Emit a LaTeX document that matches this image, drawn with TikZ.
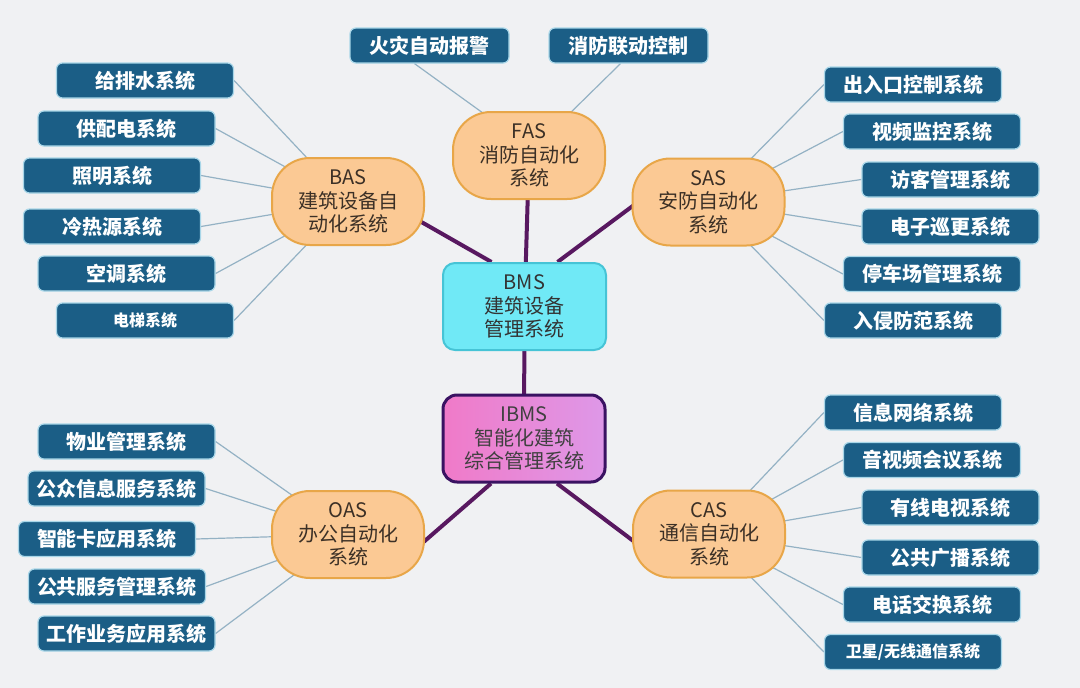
\documentclass[tikz,border=0pt]{standalone}
\usepackage{fontspec}
\setmainfont{Noto Sans CJK SC}
\usetikzlibrary{backgrounds}
\usepackage{xcolor}

\definecolor{paper}{RGB}{240,241,243}
\definecolor{leafblue}{RGB}{27,94,134}
\definecolor{leafrim}{RGB}{168,214,232}
\definecolor{sysfill}{RGB}{251,201,148}
\definecolor{sysrim}{RGB}{232,166,72}
\definecolor{systext}{RGB}{60,48,38}
\definecolor{bmsfill}{RGB}{112,233,246}
\definecolor{bmsrim}{RGB}{70,196,214}
\definecolor{ibmsleft}{RGB}{240,122,200}
\definecolor{ibmsright}{RGB}{222,152,232}
\definecolor{ibmsrim}{RGB}{58,18,98}
\definecolor{busline}{RGB}{88,24,96}
\definecolor{twigline}{RGB}{148,178,196}

\begin{document}
\begin{tikzpicture}[
    x=1pt, y=-1pt,
    every node/.style={font=\fontsize{20}{23.5}\selectfont},
    leafbox/.style={rectangle, rounded corners=6pt, draw=leafrim, line width=1.2pt,
                    fill=leafblue, text=white, font=\fontsize{20}{24}\selectfont\bfseries,
                    minimum width=177pt, minimum height=35pt, inner sep=0pt},
    sysnode/.style={rectangle, rounded corners=38pt, draw=sysrim, line width=2pt,
                    fill=sysfill, text=systext, align=center,
                    minimum width=152pt, minimum height=87pt, inner sep=0pt},
    bmsbox/.style ={rectangle, rounded corners=12pt, draw=bmsrim, line width=2pt,
                    fill=bmsfill, text=black!80, align=center,
                    minimum width=163pt, minimum height=87pt, inner sep=0pt},
    ibmsbox/.style={rectangle, rounded corners=14pt, draw=ibmsrim, line width=3pt,
                    left color=ibmsleft, right color=ibmsright, text=black!75,
                    align=center, minimum width=162pt, minimum height=87pt, inner sep=0pt},
    bus/.style    ={draw=busline, line width=4pt},
    twig/.style   ={draw=twigline, line width=1.2pt},
]
\useasboundingbox (0,0) rectangle (1080,688);

% ── Core column ──────────────────────────────────────────────
\node[bmsbox]  (bms)  at (524.5,306.5) {BMS\\建筑设备\\管理系统};
\node[ibmsbox] (ibms) at (524,438.5)   {IBMS\\智能化建筑\\综合管理系统};

% ── Sub-systems round the core ───────────────────────────────
\node[sysnode] (fas) at (529,155.5) {FAS\\消防自动化\\系统};
\node[sysnode] (bas) at (348,201.5) {BAS\\建筑设备自\\动化系统};
\node[sysnode] (sas) at (708.5,202) {SAS\\安防自动化\\系统};
\node[sysnode] (oas) at (348,534.5) {OAS\\办公自动化\\系统};
\node[sysnode] (cas) at (709,534)   {CAS\\通信自动化\\系统};

% ── FAS leaves (top) ─────────────────────────────────────────
\node[leafbox, minimum width=159pt] (f1) at (429.5,45.5) {火灾自动报警};
\node[leafbox, minimum width=159pt] (f2) at (628.5,45.5) {消防联动控制};

% ── BAS leaves (left, upper) ─────────────────────────────────
\node[leafbox] (b1) at (145,80.5)    {给排水系统};
\node[leafbox] (b2) at (126.5,128.5) {供配电系统};
\node[leafbox] (b3) at (112,175.5)   {照明系统};
\node[leafbox] (b4) at (112,226.5)   {冷热源系统};
\node[leafbox] (b5) at (126.5,273.5) {空调系统};
\node[leafbox, font=\fontsize{16}{20}\selectfont\bfseries] (b6) at (145,320.5) {电梯系统};

% ── SAS leaves (right, upper) ────────────────────────────────
\node[leafbox] (s1) at (913,84.5)    {出入口控制系统};
\node[leafbox] (s2) at (932,131.5)   {视频监控系统};
\node[leafbox] (s3) at (950.5,179.5) {访客管理系统};
\node[leafbox] (s4) at (950.5,226.5) {电子巡更系统};
\node[leafbox] (s5) at (932,274)     {停车场管理系统};
\node[leafbox] (s6) at (913,320.5)   {入侵防范系统};

% ── OAS leaves (left, lower) ─────────────────────────────────
\node[leafbox] (o1) at (126.5,441.5) {物业管理系统};
\node[leafbox] (o2) at (116.5,488.5) {公众信息服务系统};
\node[leafbox] (o3) at (107,539)     {智能卡应用系统};
\node[leafbox] (o4) at (117,586.5)   {公共服务管理系统};
\node[leafbox] (o5) at (126.5,633.5) {工作业务应用系统};

% ── CAS leaves (right, lower) ────────────────────────────────
\node[leafbox] (c1) at (913,412.5)   {信息网络系统};
\node[leafbox] (c2) at (932,460)     {音视频会议系统};
\node[leafbox] (c3) at (950.5,507.5) {有线电视系统};
\node[leafbox] (c4) at (950.5,557.5) {公共广播系统};
\node[leafbox] (c5) at (932,604.5)   {电话交换系统};
\node[leafbox, font=\fontsize{16}{20}\selectfont\bfseries] (c6) at (913,652) {卫星/无线通信系统};

% ── Connectors, kept under the nodes ─────────────────────────
\begin{scope}[on background layer]
  \fill[paper] (0,0) rectangle (1080,688);

  % thin leaf lines
  \draw[twig] ([xshift=-15pt]f1.south) -- ([xshift=-35pt,yshift=-10pt]fas.north);
  \draw[twig] ([xshift=-8pt]f2.south)  -- ([xshift=33pt,yshift=-10pt]fas.north);

  \draw[twig] (b1.east) -- (bas.center);
  \draw[twig] (b2.east) -- (bas.center);
  \draw[twig] (b3.east) -- (bas.center);
  \draw[twig] (b4.east) -- (bas.center);
  \draw[twig] (b5.east) -- (bas.center);
  \draw[twig] (b6.east) -- (bas.center);

  \draw[twig] (s1.west) -- (sas.center);
  \draw[twig] (s2.west) -- (sas.center);
  \draw[twig] (s3.west) -- (sas.center);
  \draw[twig] (s4.west) -- (sas.center);
  \draw[twig] (s5.west) -- (sas.center);
  \draw[twig] (s6.west) -- (sas.center);

  \draw[twig] (o1.east) -- (oas.center);
  \draw[twig] (o2.east) -- (oas.center);
  \draw[twig] (o3.east) -- (oas.center);
  \draw[twig] (o4.east) -- (oas.center);
  \draw[twig] (o5.east) -- (oas.center);

  \draw[twig] (c1.west) -- (cas.center);
  \draw[twig] (c2.west) -- (cas.center);
  \draw[twig] (c3.west) -- (cas.center);
  \draw[twig] (c4.west) -- (cas.center);
  \draw[twig] (c5.west) -- (cas.center);
  \draw[twig] (c6.west) -- (cas.center);

  % thick purple links to the core
  \draw[bus] (fas.center) -- (bms.center);
  \draw[bus] ([xshift=-22pt,yshift=-10pt]bas.east) -- ([xshift=-33pt]bms.north);
  \draw[bus] ([xshift=20pt,yshift=10pt]sas.west)   -- ([xshift=33pt]bms.north);
  \draw[bus] (bms.center) -- (ibms.center);
  \draw[bus] ([xshift=-33pt]ibms.south) -- ([xshift=-17pt,yshift=-21pt]oas.east);
  \draw[bus] ([xshift=33pt]ibms.south)  -- ([xshift=20pt,yshift=-21pt]cas.west);
\end{scope}

\end{tikzpicture}
\end{document}
